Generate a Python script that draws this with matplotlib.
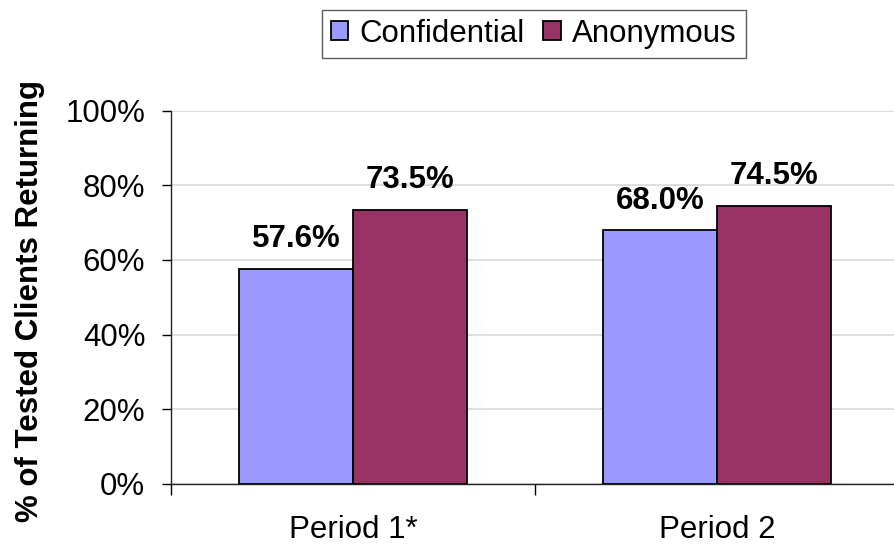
import numpy as np
import matplotlib
matplotlib.use("Agg")
import matplotlib.pyplot as plt
from matplotlib.ticker import FuncFormatter

plt.rcParams['font.family'] = ['Liberation Sans', 'DejaVu Sans']

# data
periods = ['Period 1*', 'Period 2']
confidential = [57.6, 68.0]
anonymous = [73.5, 74.5]
series_names = ['Confidential', 'Anonymous']
colors = ['#9999FF', '#993366']

fs = 22.5
fig = plt.figure(figsize=(8.94, 5.47), dpi=100)
ax = fig.add_axes([0.1913, 0.1152, 0.8143, 0.6825])

centers = np.arange(len(periods)) + 0.5
width = 0.313

b1 = ax.bar(centers - width / 2, confidential, width, color=colors[0],
            edgecolor='black', linewidth=1.3, label=series_names[0], zorder=3)
b2 = ax.bar(centers + width / 2, anonymous, width, color=colors[1],
            edgecolor='black', linewidth=1.3, label=series_names[1], zorder=3)

for bars, vals in [(b1, confidential), (b2, anonymous)]:
    for rect, v in zip(bars, vals):
        ax.annotate(f'{v:.1f}%', (rect.get_x() + rect.get_width() / 2, v),
                    xytext=(0, 15.5), textcoords='offset points',
                    ha='center', va='baseline', fontsize=fs, fontweight='bold')

ax.set_xlim(0, 2)
ax.set_ylim(0, 100)
ax.set_yticks(np.arange(0, 101, 20))
ax.yaxis.set_major_formatter(FuncFormatter(lambda v, p: f'{v:.0f}%'))
ax.yaxis.grid(True, color='#d4d4d4', linewidth=1.1, zorder=0)

# category boundaries get the tick marks, labels sit in between
ax.set_xticks([0, 1, 2])
ax.set_xticklabels([])
ax.set_xticks(centers, minor=True)
ax.set_xticklabels(periods, minor=True)
ax.tick_params(axis='x', which='major', direction='out', length=8, width=1)
ax.tick_params(axis='x', which='minor', length=0, pad=22, labelsize=fs)
ax.tick_params(axis='y', direction='out', length=6.5, width=1, pad=12, labelsize=fs)

for s in ['top', 'right']:
    ax.spines[s].set_visible(False)
for s in ['left', 'bottom']:
    ax.spines[s].set_color('#222222')
    ax.spines[s].set_linewidth(1.0)

fig.text(30 / 894, 0.45, '% of Tested Clients Returning', rotation=90,
         ha='center', va='center', fontsize=fs, fontweight='bold')

leg = fig.legend(handles=[b1, b2], loc='center', bbox_to_anchor=(0.597, 0.938),
                 ncol=2, fontsize=fs, frameon=True, fancybox=False, shadow=False,
                 handlelength=0.55, handleheight=0.55, handletextpad=0.35,
                 columnspacing=0.6, borderpad=0.3, borderaxespad=0)
leg.get_frame().set_edgecolor('#333333')
leg.get_frame().set_linewidth(1.0)

fig.savefig('out.png', dpi=100)
